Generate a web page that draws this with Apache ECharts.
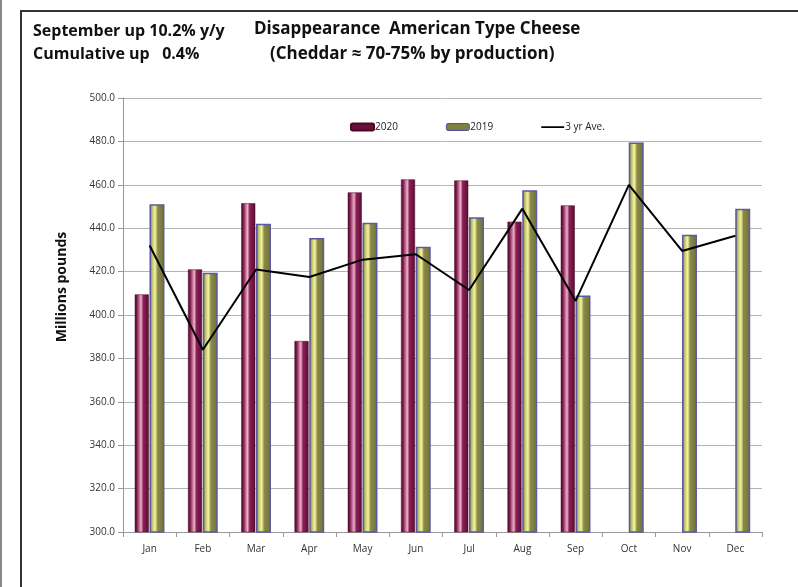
<!DOCTYPE html>
<html>
<head>
<meta charset="utf-8">
<script src="https://cdn.jsdelivr.net/npm/echarts@6/dist/echarts.min.js"></script>
<style>
  html, body { margin: 0; padding: 0; background: #fff; }
  #chart { width: 798px; height: 587px; }
</style>
</head>
<body>
<div id="chart"></div>
<script>
const months = ['Jan', 'Feb', 'Mar', 'Apr', 'May', 'Jun', 'Jul', 'Aug', 'Sep', 'Oct', 'Nov', 'Dec'];
const y2020 = [409.5, 421.0, 451.5, 388.0, 456.5, 462.5, 462.0, 443.0, 450.5, null, null, null];
const y2019 = [451.0, 419.5, 442.0, 435.5, 442.5, 431.5, 445.0, 457.5, 409.0, 479.5, 437.0, 449.0];
const avg3yr = [432.0, 384.0, 421.0, 417.5, 425.5, 428.0, 411.5, 449.0, 406.5, 460.0, 429.5, 436.5];

const chart = echarts.init(document.getElementById('chart'));

const grad2020 = new echarts.graphic.LinearGradient(0, 0, 1, 0, [
    {offset: 0, color: '#4e0828'},
    {offset: 0.15, color: '#7a1a4a'},
    {offset: 0.45, color: '#f2b0cc'},
    {offset: 0.6, color: '#8a2258'},
    {offset: 1, color: '#5a0c32'}
]);
const grad2019 = new echarts.graphic.LinearGradient(0, 0, 1, 0, [
    {offset: 0, color: '#6a6a30'},
    {offset: 0.2, color: '#c8c870'},
    {offset: 0.38, color: '#f4f4a0'},
    {offset: 0.55, color: '#8a8a48'},
    {offset: 1, color: '#707038'}
]);

// thin line icon for the legend (tiny dots keep the box 23x7)
const lineIcon = 'path://M0,0 H0.01 V0.01 H0 Z M0,2.8 H23 V4.4 H0 Z M0,7 H0.01 V7.01 H0 Z';

const options = {
    animation: false,
    textStyle: {fontFamily: 'Open Sans'},
    graphic: [
        {type: 'rect', shape: {x: 0, y: 0, width: 2, height: 587}, style: {fill: '#888'}},
        {type: 'rect', shape: {x: 20, y: 10, width: 780, height: 2}, style: {fill: '#333'}},
        {type: 'rect', shape: {x: 20, y: 10, width: 2, height: 580}, style: {fill: '#333'}},
        {type: 'text', left: 33, top: 23, style: {text: 'September up 10.2% y/y', font: 'bold 16px "Open Sans"', fill: '#111'}},
        {type: 'text', left: 33, top: 46, style: {text: 'Cumulative up   0.4%', font: 'bold 16px "Open Sans"', fill: '#111'}},
        {type: 'text', left: 254, top: 21, style: {text: 'Disappearance  American Type Cheese', font: 'bold 17px "Open Sans"', fill: '#111'}},
        {type: 'text', left: 270, top: 46, style: {text: '(Cheddar \u2248 70-75% by production)', font: 'bold 17px "Open Sans"', fill: '#111'}},
        {type: 'text', x: 62, y: 287, rotation: Math.PI / 2,
            style: {text: 'Millions pounds', font: 'bold 14px "Open Sans"', fill: '#111', align: 'center', verticalAlign: 'middle'}}
    ],
    legend: {
        left: 345,
        top: 117,
        itemWidth: 23,
        itemHeight: 7,
        itemGap: 48,
        textStyle: {fontSize: 10, color: '#222', padding: [0, 0, 0, -4]},
        data: [
            {name: '2020', itemStyle: {color: '#6a0e3a'}},
            {name: '2019', itemStyle: {color: '#7f7f40', borderColor: '#5050a0', borderWidth: 1}},
            {name: '3 yr Ave.', icon: lineIcon, itemStyle: {color: '#000', borderWidth: 0}}
        ]
    },
    grid: {left: 123, right: 36, top: 98, bottom: 55},
    xAxis: {
        type: 'category',
        data: months,
        axisLine: {lineStyle: {color: '#999'}},
        axisTick: {show: true, length: 5, lineStyle: {color: '#999'}},
        axisLabel: {color: '#333', fontSize: 10, margin: 12}
    },
    yAxis: {
        type: 'value',
        min: 300,
        max: 500,
        interval: 20,
        axisLine: {show: true, lineStyle: {color: '#999'}},
        axisTick: {show: true, length: 5, lineStyle: {color: '#999'}},
        axisLabel: {color: '#333', fontSize: 10, formatter: v => v.toFixed(1)},
        splitLine: {lineStyle: {color: '#b4b4b4'}}
    },
    series: [
        {
            name: '2020',
            type: 'bar',
            data: y2020,
            barWidth: 14,
            barGap: '5%',
            itemStyle: {color: grad2020, borderColor: '#4a0826', borderWidth: 0.5}
        },
        {
            name: '2019',
            type: 'bar',
            data: y2019,
            barWidth: 15,
            itemStyle: {color: grad2019, borderColor: '#5a5aa8', borderWidth: 1.5}
        },
        {
            name: '3 yr Ave.',
            type: 'line',
            data: avg3yr,
            symbol: 'none',
            itemStyle: {color: '#000'},
            lineStyle: {color: '#000', width: 2}
        }
    ]
};

chart.setOption(options);
</script>
</body>
</html>
